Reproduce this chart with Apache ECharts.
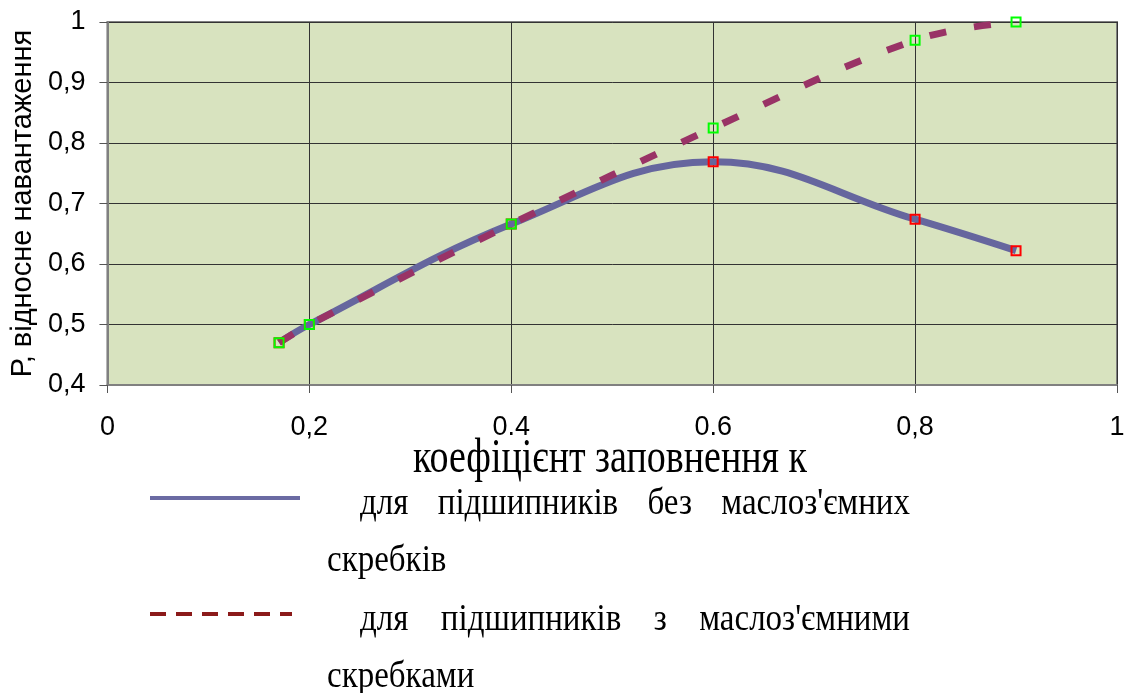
<!DOCTYPE html>
<html><head><meta charset="utf-8">
<script src="https://cdn.jsdelivr.net/npm/echarts@6/dist/echarts.min.js"></script>
<style>html,body{margin:0;padding:0;background:#fff}#c{width:1130px;height:693px}</style>
</head><body><div id="c"></div>
<script>
const xValues = [0.17, 0.2, 0.4, 0.6, 0.8, 0.9];
const withoutScrapers = [0.47, 0.5, 0.666, 0.769, 0.674, 0.622];
const withScrapers = [0.47, 0.5, 0.666, 0.825, 0.97, 1.0];
const xTickLabels = {'0': '0', '0.2': '0,2', '0.4': '0.4', '0.6': '0.6', '0.8': '0,8', '1': '1'};
const yTickLabels = {'0.4': '0,4', '0.5': '0,5', '0.6': '0,6', '0.7': '0,7', '0.8': '0,8', '0.9': '0,9', '1': '1'};
const xTitle = 'коефіцієнт заповнення к';
const yTitle = 'Р, відносне навантаження';
const legend1 = ['для', 'підшипників', 'без', "маслоз'ємних"];
const legend1b = 'скребків';
const legend2 = ['для', 'підшипників', 'з', "маслоз'ємними"];
const legend2b = 'скребками';

const solidColor = '#66669e';
const dashColor = '#993366';

const chart = echarts.init(document.getElementById('c'), null, {renderer: 'canvas'});

function key(v){ return String(Math.round(v*10)/10); }

const serifFont = "'Liberation Serif', 'Times New Roman', serif";
const sansFont = "'Liberation Sans', Arial, sans-serif";
const legendFontSize = 33;
const legendScaleY = 1.15;

function textEl(str, x, y, size, sy, align) {
  return {type: 'text', x: x, y: y, scaleY: sy,
    style: {text: str, font: size + 'px ' + serifFont, fill: '#000', align: align || 'left', verticalAlign: 'middle'}};
}

function justify(words, left, right, y) {
  const ctx = document.createElement('canvas').getContext('2d');
  ctx.font = legendFontSize + 'px ' + serifFont;
  const widths = words.map(w => ctx.measureText(w).width);
  const total = widths.reduce((a, b) => a + b, 0);
  const gap = (right - left - total) / (words.length - 1);
  let x = left;
  return words.map((w, i) => {
    const el = textEl(w, x, y, legendFontSize, legendScaleY);
    x += widths[i] + gap;
    return el;
  });
}

const graphics = [
  textEl(xTitle, 610, 460, 38, 1.25, 'center'),
  {type: 'line', shape: {x1: 150, y1: 498, x2: 300, y2: 498}, style: {stroke: '#6b6ba3', lineWidth: 4}},
  {type: 'line', shape: {x1: 150, y1: 614, x2: 292, y2: 614}, style: {stroke: '#8b1a1a', lineWidth: 4, lineDash: [16, 10]}},
  ...justify(legend1, 360, 910, 504),
  textEl(legend1b, 327, 561, legendFontSize, legendScaleY),
  ...justify(legend2, 360, 910, 620),
  textEl(legend2b, 327, 677, legendFontSize, legendScaleY)
];

chart.setOption({
  animation: false,
  backgroundColor: '#fff',
  grid: {left: 107, top: 22, right: 13, bottom: 308, show: true, backgroundColor: '#d8e3bf', borderColor: '#808080', borderWidth: 2},
  xAxis: {
    type: 'value', min: 0, max: 1, interval: 0.2,
    axisLine: {show: true, onZero: false, lineStyle: {color: '#808080', width: 2}},
    axisTick: {show: true, length: 8, lineStyle: {color: '#555'}},
    axisLabel: {margin: 29, fontFamily: sansFont, fontSize: 27, color: '#000', formatter: v => xTickLabels[key(v)]},
    splitLine: {show: true, lineStyle: {color: '#333', width: 1}}
  },
  yAxis: {
    type: 'value', min: 0.4, max: 1, interval: 0.1,
    name: yTitle, nameLocation: 'middle', nameGap: 68, nameRotate: 90,
    nameTextStyle: {fontFamily: sansFont, fontSize: 29, color: '#000'},
    axisLine: {show: true, lineStyle: {color: '#808080', width: 2}},
    axisTick: {show: true, length: 8, lineStyle: {color: '#555'}},
    axisLabel: {margin: 22, fontFamily: sansFont, fontSize: 27, color: '#000', formatter: v => yTickLabels[key(v)]},
    splitLine: {show: true, lineStyle: {color: '#333', width: 1}}
  },
  series: [
    {
      type: 'line', smooth: 0.4, data: xValues.map((x, i) => [x, withoutScrapers[i]]),
      symbol: 'rect', symbolSize: 9, showAllSymbol: true,
      lineStyle: {color: solidColor, width: 7},
      itemStyle: {color: 'rgba(0,0,0,0)', borderColor: '#ff0000', borderWidth: 2}
    },
    {
      type: 'line', smooth: 0.4, data: xValues.map((x, i) => [x, withScrapers[i]]),
      symbol: 'rect', symbolSize: 9, showAllSymbol: true,
      lineStyle: {color: dashColor, width: 7, type: [17, 28], cap: 'butt'},
      itemStyle: {color: 'rgba(0,0,0,0)', borderColor: '#00ff00', borderWidth: 2}
    }
  ],
  graphic: graphics
});
</script></body></html>
